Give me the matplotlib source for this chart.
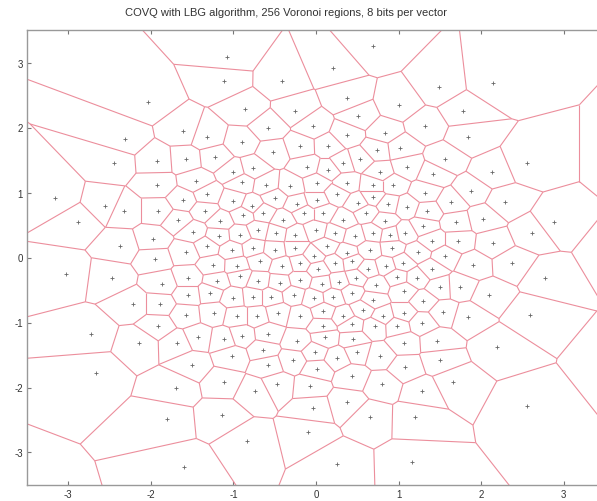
import numpy as np
import matplotlib
matplotlib.use("Agg")
import matplotlib.pyplot as plt
import matplotlib.tri as mtri
from matplotlib.collections import LineCollection

# codevectors (x, y)
top_left = [(-2.04, 2.40), (-2.31, 1.83), (-1.61, 1.94), (-2.45, 1.46), (-1.93, 1.49),
            (-1.58, 1.51), (-1.32, 1.86)]
top_mid = [(-1.08, 3.09), (-1.12, 2.72), (-0.41, 2.71), (0.21, 2.92), (0.69, 3.25),
           (0.37, 2.45), (1.00, 2.35), (-0.86, 2.28), (-0.25, 2.26), (0.51, 2.17),
           (-0.58, 2.00), (-0.04, 2.02), (-0.90, 1.77), (0.83, 1.92), (0.37, 1.89),
           (-0.19, 1.71), (0.15, 1.72), (-0.52, 1.62), (-1.22, 1.54), (0.74, 1.66),
           (1.02, 1.69), (0.53, 1.51), (-0.11, 1.40), (-0.76, 1.37), (0.15, 1.35),
           (0.33, 1.46), (-1.00, 1.32), (0.77, 1.31)]
top_right = [(2.14, 2.69), (1.49, 2.63), (1.78, 2.25), (1.32, 2.02), (1.84, 1.85),
             (2.55, 1.45), (2.13, 1.31), (1.56, 1.51), (1.10, 1.39), (1.42, 1.28)]
right = [(1.88, 1.02), (1.32, 1.00), (2.29, 0.85), (2.88, 0.54), (1.64, 0.85),
         (1.10, 0.78), (1.35, 0.71), (2.02, 0.60), (1.70, 0.54), (1.30, 0.48),
         (2.61, 0.38), (1.08, 0.38), (1.40, 0.26), (1.72, 0.26), (2.14, 0.22),
         (1.23, 0.08), (1.56, 0.02), (1.05, -0.08), (2.37, -0.09), (1.90, -0.11),
         (1.40, -0.18), (1.22, -0.31), (2.77, -0.31), (1.74, -0.45), (1.50, -0.46),
         (1.06, -0.51), (2.10, -0.58), (1.30, -0.67), (1.54, -0.84), (1.84, -0.91),
         (2.59, -0.88), (1.28, -1.00)]
bottom_right = [(1.06, -1.31), (1.46, -1.29), (2.19, -1.37), (1.50, -1.58), (1.08, -1.69),
                (1.66, -1.91), (1.28, -2.06), (2.55, -2.29), (1.20, -2.46), (1.16, -3.15)]
bottom_mid = [(-1.12, -1.26), (-0.90, -1.20), (-0.58, -1.17), (-0.23, -1.28), (0.08, -1.05),
              (0.43, -1.03), (0.71, -1.06), (0.98, -1.05), (0.11, -1.23), (0.45, -1.26),
              (-1.02, -1.52), (-0.64, -1.42), (-0.28, -1.58), (-0.01, -1.46), (0.25, -1.54),
              (0.50, -1.45), (0.77, -1.51), (-0.58, -1.66), (0.01, -1.71), (0.44, -1.83),
              (-1.12, -1.91), (-0.74, -2.06), (-0.47, -1.95), (-0.07, -1.98), (0.80, -1.95),
              (0.37, -2.23), (-0.04, -2.32), (-1.14, -2.43), (0.65, -2.45), (-0.10, -2.69),
              (-0.83, -2.83), (0.25, -3.17), (-1.60, -3.23)]
bottom_left = [(-2.73, -1.17), (-2.67, -1.77), (-2.14, -1.32), (-1.91, -1.05), (-1.68, -1.31),
               (-1.43, -1.22), (-1.50, -1.65), (-1.70, -2.00), (-1.81, -2.48)]
left = [(-3.16, 0.92), (-2.55, 0.80), (-2.88, 0.54), (-2.33, 0.72), (-1.92, 1.12),
        (-1.91, 0.72), (-1.45, 1.17), (-1.61, 0.88), (-1.67, 0.57), (-1.49, 0.40),
        (-1.97, 0.28), (-2.37, 0.18), (-1.58, 0.08), (-1.95, -0.02), (-3.03, -0.25),
        (-2.47, -0.31), (-1.86, -0.40), (-1.55, -0.31), (-2.22, -0.72), (-1.89, -0.72),
        (-1.55, -0.57), (-1.58, -0.88), (-1.32, 0.17), (-1.25, -0.12), (-1.35, 0.72)]
center = [
    (-0.90, 1.16), (-0.60, 1.12), (-0.31, 1.10), (0.01, 1.15), (0.37, 1.15), (0.69, 1.12), (0.93, 1.12),
    (-1.32, 0.97), (-1.00, 0.87), (-0.78, 0.80), (-0.50, 0.92), (-0.23, 0.82), (0.01, 0.88),
    (0.25, 0.97), (0.51, 0.84), (0.69, 0.93), (0.87, 0.82),
    (-1.16, 0.56), (-0.88, 0.66), (-0.64, 0.69), (-0.40, 0.58), (-0.15, 0.69), (0.09, 0.69),
    (0.33, 0.58), (0.61, 0.69), (0.83, 0.56),
    (-1.18, 0.33), (-0.92, 0.35), (-0.70, 0.42), (-0.48, 0.38), (-0.25, 0.35), (0.00, 0.42),
    (0.23, 0.38), (0.47, 0.33), (0.69, 0.38), (0.90, 0.35),
    (-1.02, 0.12), (-0.76, 0.15), (-0.50, 0.12), (-0.25, 0.15), (-0.03, 0.03), (0.13, 0.17),
    (0.37, 0.07), (0.65, 0.12), (0.92, 0.15),
    (-0.96, -0.13), (-0.68, -0.06), (-0.41, -0.13), (-0.19, -0.08), (0.03, -0.18), (0.23, -0.08),
    (0.43, -0.06), (0.63, -0.18), (0.85, -0.13),
    (-1.20, -0.36), (-0.92, -0.29), (-0.70, -0.36), (-0.44, -0.39), (-0.19, -0.34), (0.07, -0.40),
    (0.28, -0.37), (0.49, -0.31), (0.73, -0.42), (0.98, -0.30),
    (-1.28, -0.54), (-1.00, -0.62), (-0.76, -0.60), (-0.54, -0.60), (-0.27, -0.57), (-0.03, -0.62),
    (0.21, -0.60), (0.43, -0.54), (0.69, -0.65),
    (-1.24, -0.85), (-0.96, -0.90), (-0.72, -0.90), (-0.46, -0.85), (-0.19, -0.90), (0.09, -0.83),
    (0.33, -0.90), (0.57, -0.80), (0.81, -0.90), (1.06, -0.85)]
# codevectors whose dots fall outside the visible axes
off_axes = [(3.83, 1.45), (3.60, 0.08), (3.67, -1.59), (-3.60, -3.70)]

title_text = "COVQ with LBG algorithm, 256 Voronoi regions, 8 bits per vector"
ticks = [-3, -2, -1, 0, 1, 2, 3]

visible = np.array(top_left + top_mid + top_right + right + bottom_right +
                   bottom_mid + bottom_left + left + center)
pts = np.vstack([visible, np.array(off_axes)])

# Voronoi edges from the Delaunay triangulation
tri = mtri.Triangulation(pts[:, 0], pts[:, 1])
T = tri.triangles
A, B, C = pts[T[:, 0]], pts[T[:, 1]], pts[T[:, 2]]
a2, b2, c2 = (A ** 2).sum(1), (B ** 2).sum(1), (C ** 2).sum(1)
d = 2 * (A[:, 0] * (B[:, 1] - C[:, 1]) + B[:, 0] * (C[:, 1] - A[:, 1]) + C[:, 0] * (A[:, 1] - B[:, 1]))
ux = (a2 * (B[:, 1] - C[:, 1]) + b2 * (C[:, 1] - A[:, 1]) + c2 * (A[:, 1] - B[:, 1])) / d
uy = (a2 * (C[:, 0] - B[:, 0]) + b2 * (A[:, 0] - C[:, 0]) + c2 * (B[:, 0] - A[:, 0])) / d
cc = np.column_stack([ux, uy])
mid_all = pts.mean(axis=0)

segs = []
for t in range(len(T)):
    for j in range(3):
        nb = tri.neighbors[t, j]
        if nb > t:
            segs.append([cc[t], cc[nb]])
        elif nb == -1:
            p, q = pts[T[t, j]], pts[T[t, (j + 1) % 3]]
            e = q - p
            n = np.array([-e[1], e[0]]) / np.hypot(*e)
            if np.dot((p + q) / 2 - mid_all, n) < 0:
                n = -n
            segs.append([cc[t], cc[t] + n * 50])

plt.rcParams["font.family"] = ["Liberation Sans", "DejaVu Sans"]
plt.rcParams["axes.unicode_minus"] = False

fig = plt.figure(figsize=(5.97, 5.02), dpi=100)
ax = fig.add_axes([27 / 597, 16 / 502, 578 / 597, 455 / 502])
ax.add_collection(LineCollection(segs, colors="#ec8e9c", linewidths=0.8))
ax.plot(visible[:, 0], visible[:, 1], "+", color="#666666", markersize=2.2, markeredgewidth=0.6)

ax.set_xlim(-3.5, 3.5)
ax.set_ylim(-3.5, 3.5)
ax.set_xticks(ticks)
ax.set_yticks(ticks)
ax.tick_params(direction="in", top=True, right=True, labelsize=7, length=3,
               color="#777777", labelcolor="#333333", pad=3)
for s in ax.spines.values():
    s.set_color("#999999")
    s.set_linewidth(1.0)
fig.text(286 / 597, 0.975, title_text, ha="center", va="center", fontsize=8, color="#333333")

fig.savefig("out.png", dpi=100)
